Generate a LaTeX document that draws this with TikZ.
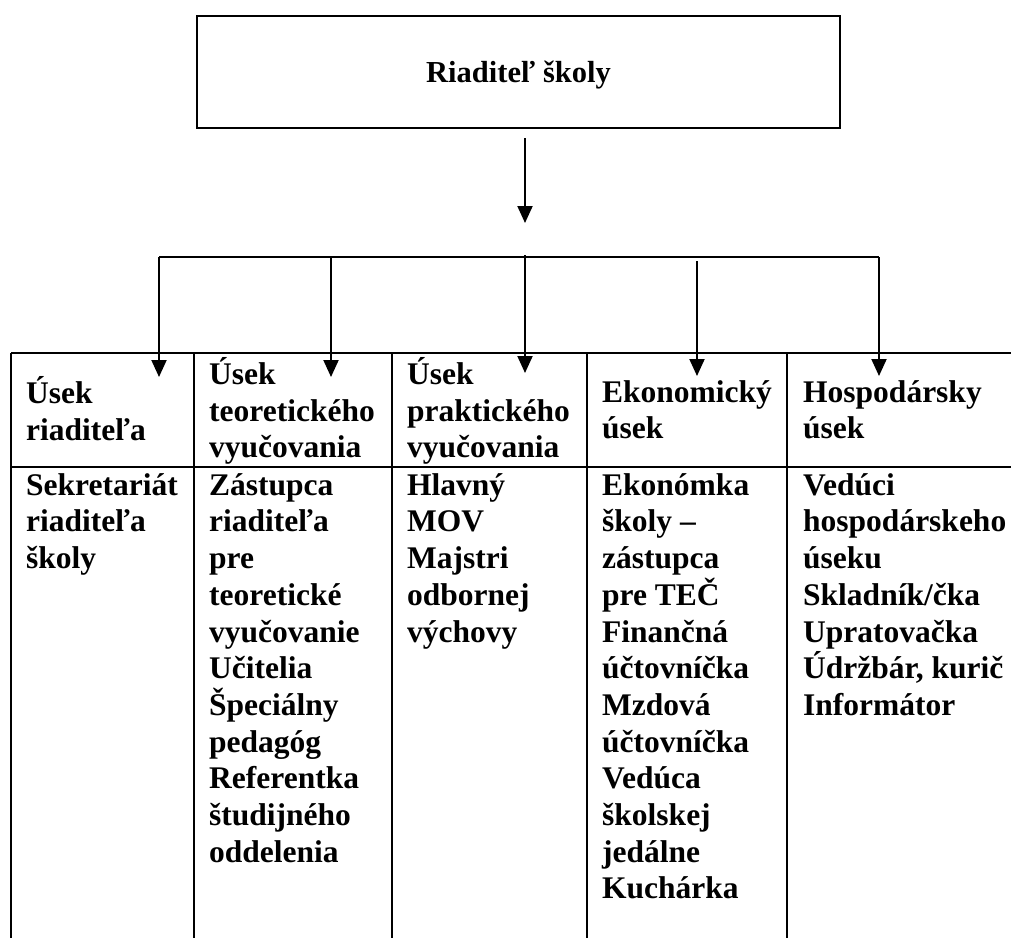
\documentclass[tikz,border=0pt]{standalone}
\usepackage{fontspec}
\setmainfont{Liberation Serif}
\usetikzlibrary{arrows.meta}
\begin{document}
\begin{tikzpicture}[x=1pt,y=-1pt,
  txt/.style={anchor=north west, inner sep=0pt, align=left, font=\fontsize{31.5}{36.7}\selectfont\bfseries},
  conn/.style={line width=2pt, -{Triangle[width=15pt,length=17pt]}},
  bus/.style={line width=2pt},
  gridline/.style={line width=2.5pt},
  boxstyle/.style={draw, line width=2.5pt, minimum width=643pt, minimum height=112pt, inner sep=0pt, text depth=0pt, font=\fontsize{30.5}{36.7}\selectfont\bfseries}]
\useasboundingbox (0,0) rectangle (1011,938);
% top box
\node[boxstyle] (top) at (518.5,72) {Riaditeľ školy};
% connectors
\coordinate (a0s) at (525,138);
\coordinate (a0e) at (525,223);
\draw[conn] (a0s) -- (a0e);
\coordinate (busL) at (159,257);
\coordinate (busR) at (879,257);
\draw[bus] (busL) -- (busR);
\coordinate (d1s) at (159,257); \coordinate (d1e) at (159,377);
\coordinate (d2s) at (331,257); \coordinate (d2e) at (331,377);
\coordinate (d3s) at (525,255); \coordinate (d3e) at (525,373);
\coordinate (d4s) at (697,261); \coordinate (d4e) at (697,376);
\coordinate (d5s) at (879,257); \coordinate (d5e) at (879,376);
\draw[conn] (d1s) -- (d1e);
\draw[conn] (d2s) -- (d2e);
\draw[conn] (d3s) -- (d3e);
\draw[conn] (d4s) -- (d4e);
\draw[conn] (d5s) -- (d5e);
% table grid
\draw[gridline] (11,353) -- (1011,353);
\draw[gridline] (11,467) -- (1011,467);
\foreach \cx in {11,194,392,587,787}{
  \draw[gridline] (\cx,353) -- (\cx,938);
}
% header cells
\node[txt] (h1) at (26,376.3) {\strut Úsek\\riaditeľa};
\node[txt] (h2) at (209,357.3) {\strut Úsek\\teoretického\\vyučovania};
\node[txt] (h3) at (407,357.3) {\strut Úsek\\praktického\\vyučovania};
\node[txt] (h4) at (602,376.3) {\strut Ekonomický\\úsek};
\node[txt] (h5) at (803,376.3) {\strut Hospodársky\\úsek};
% body cells
\node[txt] (b1) at (26,469.3) {\strut Sekretariát\\riaditeľa\\školy};
\node[txt] (b2) at (209,469.3) {\strut Zástupca\\riaditeľa\\pre\\teoretické\\vyučovanie\\Učitelia\\Špeciálny\\pedagóg\\Referentka\\študijného\\oddelenia};
\node[txt] (b3) at (407,469.3) {\strut Hlavný\\MOV\\Majstri\\odbornej\\výchovy};
\node[txt] (b4) at (602,469.3) {\strut Ekonómka\\školy –\\zástupca\\pre TEČ\\Finančná\\účtovníčka\\Mzdová\\účtovníčka\\Vedúca\\školskej\\jedálne\\Kuchárka};
\node[txt] (b5) at (803,469.3) {\strut Vedúci\\hospodárskeho\\úseku\\Skladník/čka\\Upratovačka\\Údržbár, kurič\\Informátor};
\end{tikzpicture}
\end{document}
